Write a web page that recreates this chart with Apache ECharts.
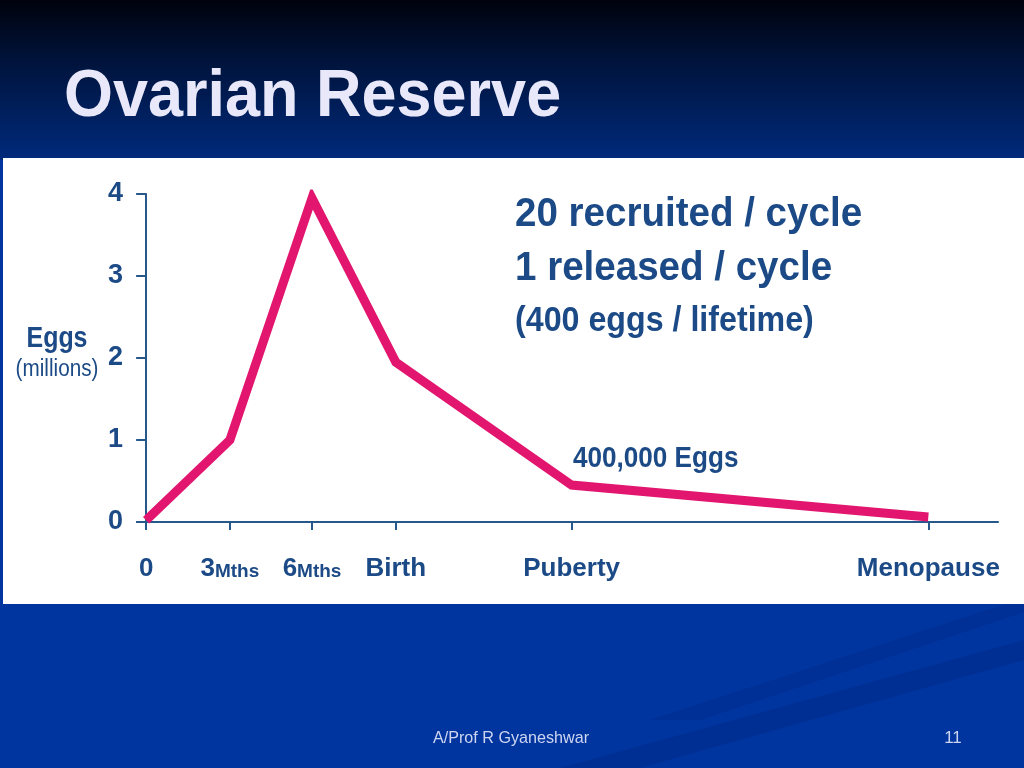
<!DOCTYPE html>
<html>
<head>
<meta charset="utf-8">
<title>Ovarian Reserve</title>
<script src="https://cdn.jsdelivr.net/npm/echarts@6/dist/echarts.min.js"></script>
<style>
  html, body { margin: 0; padding: 0; background: #0034a0; }
  #chart { width: 1024px; height: 768px; }
</style>
</head>
<body>
<div id="chart"></div>
<script>
// ---- Data ----
const categories = ['0', '3Mths', '6Mths', 'Birth', 'Puberty', 'Menopause'];
const xPositions = [0, 1.01, 2, 3.01, 5.13, 9.43];
const eggsMillions = [0.02, 1.0, 3.95, 1.95, 0.45, 0.06];
const yTicks = [0, 1, 2, 3, 4];
const titleText = 'Ovarian Reserve';
const noteLines = ['20 recruited / cycle', '1 released / cycle', '(400 eggs / lifetime)'];
const pubertyNote = '400,000 Eggs';
const yAxisTitle = ['Eggs', '(millions)'];
const footerText = 'A/Prof R Gyaneshwar';
const pageNumber = '11';

const FONT = "'Liberation Sans', Arial, sans-serif";
const TXT = '#1b4a86';
const AXIS = '#27588c';

const seriesData = xPositions.map((x, i) => [x, eggsMillions[i]]);

const chart = echarts.init(document.getElementById('chart'), null, { renderer: 'canvas' });

function labelFor(v) {
  let idx = -1;
  for (let i = 0; i < xPositions.length; i++) {
    if (Math.abs(xPositions[i] - v) < 1e-6) { idx = i; break; }
  }
  if (idx < 0) return '';
  const name = categories[idx];
  const m = name.match(/^(\d+)(Mths)$/);
  if (m) return '{big|' + m[1] + '}{small|' + m[2] + '}';
  return '{big|' + name + '}';
}

function txt(x, y, text, font, align, sx) {
  return {
    type: 'text', z: 10, x: x, y: y, scaleX: sx || 1,
    style: { text: text, fill: TXT, font: font, verticalAlign: 'middle', align: align || 'left' }
  };
}

const option = {
  animation: false,
  backgroundColor: '#0034a0',
  graphic: [
    // header gradient
    { type: 'rect', z: -100, silent: true,
      shape: { x: 0, y: 0, width: 1024, height: 160 },
      style: { fill: new echarts.graphic.LinearGradient(0, 0, 0, 1, [
        { offset: 0, color: '#00020c' },
        { offset: 0.35, color: '#001238' },
        { offset: 1, color: '#002a7c' }
      ]) } },
    // lower blue
    { type: 'rect', z: -100, silent: true,
      shape: { x: 0, y: 160, width: 1024, height: 608 },
      style: { fill: '#0035a0' } },
    // diagonal streaks
    { type: 'polygon', z: -99, silent: true,
      shape: { points: [[560, 768], [1024, 640], [1024, 660], [640, 768]] },
      style: { fill: 'rgba(0,20,90,0.18)' } },
    { type: 'polygon', z: -99, silent: true,
      shape: { points: [[650, 720], [1024, 598], [1024, 612], [700, 720]] },
      style: { fill: 'rgba(0,20,90,0.15)' } },
    // white panel
    { type: 'rect', z: -98, silent: true,
      shape: { x: 3, y: 158, width: 1021, height: 446 },
      style: { fill: '#ffffff' } },
    // title
    { type: 'text', z: 10, x: 64, y: 98, scaleX: 0.94,
      style: { text: titleText, fill: '#e8e8fa', font: 'bold 67px ' + FONT, verticalAlign: 'middle', align: 'left',
        shadowColor: 'rgba(0,0,0,0.85)', shadowBlur: 3, shadowOffsetX: 3, shadowOffsetY: 3 } },
    // notes
    txt(515, 215, noteLines[0], 'bold 41px ' + FONT, 'left', 0.94),
    txt(515, 269, noteLines[1], 'bold 41px ' + FONT, 'left', 0.94),
    txt(515, 321, noteLines[2], 'bold 35px ' + FONT, 'left', 0.92),
    txt(573, 459, pubertyNote, 'bold 30px ' + FONT, 'left', 0.87),
    // y axis title
    txt(57, 339, yAxisTitle[0], 'bold 29px ' + FONT, 'center', 0.86),
    txt(57, 370, yAxisTitle[1], '23px ' + FONT, 'center', 0.9),
    // footer
    { type: 'text', z: 10, x: 511, y: 738, scaleX: 0.95,
      style: { text: footerText, fill: '#cdd5f0', font: '17px ' + FONT, verticalAlign: 'middle', align: 'center' } },
    { type: 'text', z: 10, x: 953, y: 738,
      style: { text: pageNumber, fill: '#cdd5f0', font: '17px ' + FONT, verticalAlign: 'middle', align: 'center' } }
  ],
  grid: { left: 137, right: 26, top: 194, bottom: 246, containLabel: false },
  xAxis: {
    type: 'value',
    min: -0.11,
    max: 10.27,
    splitLine: { show: false },
    axisLine: { show: true, onZero: true, lineStyle: { color: AXIS, width: 2 } },
    axisTick: { show: true, customValues: xPositions, length: 8, lineStyle: { color: AXIS, width: 2 } },
    axisLabel: {
      show: true,
      customValues: xPositions,
      margin: 30,
      formatter: labelFor,
      color: TXT,
      fontFamily: FONT,
      fontWeight: 'bold',
      fontSize: 26,
      rich: {
        big: { fontSize: 26, fontWeight: 'bold', fontFamily: FONT, color: TXT, verticalAlign: 'bottom', lineHeight: 30 },
        small: { fontSize: 19, fontWeight: 'bold', fontFamily: FONT, color: TXT, verticalAlign: 'bottom', lineHeight: 30, padding: [0, 0, 1, 0] }
      }
    }
  },
  yAxis: {
    type: 'value',
    min: 0,
    max: 4,
    interval: 1,
    splitLine: { show: false },
    axisLine: { show: true, onZero: true, lineStyle: { color: AXIS, width: 2 } },
    axisTick: { show: true, length: 10, lineStyle: { color: AXIS, width: 2 } },
    axisLabel: {
      show: true,
      margin: 14,
      color: TXT,
      fontFamily: FONT,
      fontWeight: 'bold',
      fontSize: 27,
      formatter: function (v) { return yTicks.indexOf(v) >= 0 ? String(v) : ''; }
    }
  },
  series: [{
    type: 'line',
    data: seriesData,
    symbol: 'none',
    z: 5,
    lineStyle: { color: '#e2166f', width: 9, cap: 'butt', join: 'miter', miterLimit: 10 }
  }]
};

chart.setOption(option);
</script>
</body>
</html>
